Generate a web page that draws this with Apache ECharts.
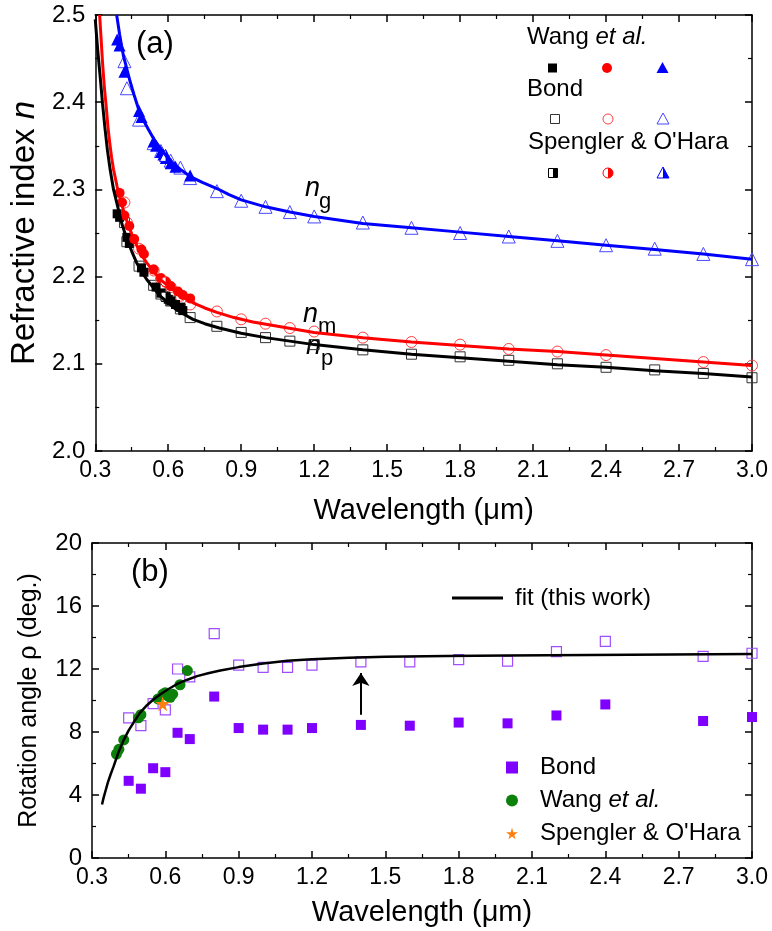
<!DOCTYPE html>
<html>
<head>
<meta charset="utf-8">
<script src="https://cdn.jsdelivr.net/npm/echarts@6/dist/echarts.min.js"></script>
<style>
html,body{margin:0;padding:0;background:#fff;}
#chart{width:772px;height:931px;}
</style>
</head>
<body>
<div id="chart"></div>
<script>
// ---------- Panel (a): refractive indices ----------
const wangNp = [[0.39,2.272],[0.40,2.268],[0.43,2.245],[0.44,2.238],[0.49,2.210],[0.50,2.205],[0.55,2.188],[0.57,2.181],[0.59,2.176],[0.60,2.174],[0.61,2.172],[0.63,2.168],[0.65,2.165],[0.66,2.161]];
const wangNm = [[0.40,2.296],[0.41,2.285],[0.42,2.270],[0.44,2.258],[0.46,2.243],[0.49,2.231],[0.50,2.226],[0.54,2.208],[0.57,2.198],[0.59,2.193],[0.61,2.189],[0.64,2.183],[0.66,2.179],[0.69,2.175]];
const wangNg = [[0.39,2.472],[0.40,2.465],[0.42,2.435],[0.48,2.390],[0.49,2.383],[0.54,2.355],[0.55,2.350],[0.57,2.343],[0.58,2.340],[0.59,2.336],[0.61,2.330],[0.63,2.326],[0.69,2.316]];

const bondNp = [[0.42,2.262],[0.43,2.240],[0.48,2.212],[0.54,2.190],[0.57,2.180],[0.61,2.172],[0.65,2.163],[0.69,2.153],[0.8,2.143],[0.9,2.136],[1.0,2.130],[1.1,2.126],[1.2,2.122],[1.4,2.116],[1.6,2.111],[1.8,2.108],[2.0,2.104],[2.2,2.100],[2.4,2.096],[2.6,2.093],[2.8,2.089],[3.0,2.084]];
const bondNm = [[0.42,2.285],[0.43,2.262],[0.48,2.232],[0.54,2.207],[0.57,2.197],[0.61,2.188],[0.65,2.178],[0.69,2.168],[0.8,2.160],[0.9,2.151],[1.0,2.146],[1.1,2.141],[1.2,2.137],[1.4,2.130],[1.6,2.125],[1.8,2.122],[2.0,2.117],[2.2,2.114],[2.4,2.110],[2.8,2.102],[3.0,2.098]];
const bondNg = [[0.42,2.447],[0.43,2.416],[0.48,2.380],[0.54,2.353],[0.57,2.344],[0.61,2.333],[0.65,2.325],[0.69,2.313],[0.8,2.298],[0.9,2.287],[1.0,2.280],[1.1,2.274],[1.2,2.269],[1.4,2.262],[1.6,2.256],[1.8,2.250],[2.0,2.246],[2.2,2.241],[2.4,2.236],[2.6,2.232],[2.8,2.226],[3.0,2.220]];

const spenNp = [[0.589,2.177]];
const spenNm = [[0.589,2.194]];
const spenNg = [[0.589,2.339]];

const fitNp = [[0.30,2.495],[0.31,2.460],[0.32,2.430],[0.33,2.398],[0.34,2.370],[0.35,2.345],[0.361,2.323],[0.375,2.300],[0.395,2.277],[0.41,2.260],[0.43,2.243],[0.45,2.229],[0.47,2.216],[0.49,2.206],[0.511,2.197],[0.54,2.187],[0.566,2.178],[0.60,2.170],[0.634,2.162],[0.67,2.156],[0.702,2.151],[0.75,2.146],[0.81,2.141],[0.9,2.135],[1.0,2.130],[1.1,2.126],[1.2,2.122],[1.4,2.116],[1.6,2.111],[1.8,2.107],[2.0,2.103],[2.2,2.099],[2.4,2.096],[2.6,2.092],[2.8,2.089],[3.0,2.085]];
const fitNm = [[0.318,2.500],[0.325,2.468],[0.33,2.445],[0.337,2.418],[0.345,2.395],[0.352,2.372],[0.36,2.352],[0.367,2.337],[0.375,2.323],[0.39,2.303],[0.402,2.290],[0.42,2.272],[0.437,2.258],[0.45,2.249],[0.47,2.236],[0.49,2.225],[0.511,2.216],[0.54,2.206],[0.566,2.197],[0.60,2.189],[0.634,2.182],[0.67,2.175],[0.702,2.170],[0.75,2.164],[0.8,2.159],[0.87,2.153],[0.948,2.148],[1.05,2.143],[1.2,2.136],[1.4,2.130],[1.6,2.125],[1.8,2.121],[2.0,2.117],[2.2,2.114],[2.4,2.110],[2.6,2.106],[2.8,2.102],[3.0,2.098]];
const fitNg = [[0.388,2.500],[0.394,2.489],[0.40,2.478],[0.408,2.465],[0.416,2.453],[0.43,2.438],[0.443,2.424],[0.46,2.408],[0.477,2.393],[0.497,2.380],[0.518,2.369],[0.54,2.358],[0.566,2.348],[0.59,2.339],[0.62,2.330],[0.65,2.323],[0.689,2.315],[0.74,2.308],[0.8,2.301],[0.85,2.294],[0.9,2.288],[1.0,2.280],[1.1,2.274],[1.2,2.269],[1.4,2.261],[1.6,2.256],[1.8,2.251],[2.0,2.246],[2.2,2.241],[2.4,2.236],[2.6,2.231],[2.8,2.226],[3.0,2.220]];

// ---------- Panel (b): rotation angle ----------
const bondRhoA = [[0.45,8.9],[0.5,8.4],[0.55,9.8],[0.6,9.4],[0.65,12.0],[0.7,11.5],[0.8,14.25],[0.9,12.25],[1.0,12.1],[1.1,12.1],[1.2,12.25],[1.4,12.45],[1.6,12.45],[1.8,12.6],[2.0,12.5],[2.2,13.1],[2.4,13.75],[2.8,12.8],[3.0,13.0]];
const bondRhoB = [[0.45,4.9],[0.5,4.4],[0.55,5.7],[0.6,5.45],[0.65,7.95],[0.7,7.55],[0.8,10.25],[0.9,8.25],[1.0,8.15],[1.1,8.15],[1.2,8.25],[1.4,8.45],[1.6,8.4],[1.8,8.6],[2.0,8.55],[2.2,9.05],[2.4,9.75],[2.8,8.7],[3.0,8.95]];
const wangRho = [[0.40,6.6],[0.41,6.9],[0.43,7.5],[0.49,8.9],[0.50,9.1],[0.57,10.1],[0.59,10.4],[0.60,10.5],[0.61,10.3],[0.62,10.2],[0.63,10.4],[0.66,11.0],[0.69,11.9]];
const spenRho = [[0.589,9.8]];
const fitRho = [[0.341,3.4],[0.347,3.8],[0.356,4.3],[0.365,4.8],[0.376,5.3],[0.388,5.8],[0.408,6.7],[0.43,7.5],[0.45,8.1],[0.47,8.6],[0.495,9.2],[0.525,9.7],[0.55,10.05],[0.58,10.4],[0.61,10.7],[0.648,11.05],[0.69,11.32],[0.73,11.55],[0.775,11.73],[0.825,11.9],[0.9,12.12],[1.0,12.35],[1.1,12.52],[1.2,12.62],[1.35,12.72],[1.5,12.78],[1.75,12.82],[2.0,12.85],[2.5,12.9],[3.0,12.95]];
const arrowFrom = [1.4, 9.1];
const arrowTo = [1.4, 11.75];

// ---------- Ticks ----------
const xTicks = {min:0.3, max:3.0, step:0.3};
const yTicksA = {min:2.0, max:2.5, step:0.1};
const yTicksB = {min:0, max:20, step:4};

const FONT = 'Liberation Sans, Arial, sans-serif';
const BLUE = '#0000ff', RED = '#ff0000', BLACK = '#000000';
const PURPLE = '#7f00ff', PURPLE_L = '#a04dff', GREEN = '#0b800b', ORANGE = '#ff7f0e';
const STAR = 'path://M50,0L61,35L98,35L68,57L79,91L50,70L21,91L32,57L2,35L39,35Z';
const HALF_RECT = 'path://M0,0H1V2H0Z';
const HALF_CIRC = 'path://M0,0A1,1 0 0 1 0,2Z';
const HALF_TRI = 'path://M0,0L1,2L0,2Z';
const LINE_ICON = 'path://M0,0H50V2H0Z';

function xAxisDef(grid, pos, labels, nameShow, gap) {
  return {
    type:'value', gridIndex:grid, position:pos, min:xTicks.min, max:xTicks.max, interval:xTicks.step,
    axisLine:{show:true, onZero:false, lineStyle:{color:BLACK, width:1.5}},
    axisTick:{show:true, inside:true, length:7, lineStyle:{color:BLACK, width:1.5}},
    minorTick:{show:true, splitNumber:2, length:4, lineStyle:{color:BLACK, width:1.2}},
    splitLine:{show:false},
    axisLabel:{show:labels, color:BLACK, fontSize:23, fontFamily:FONT, margin:8, formatter:v=>v.toFixed(1)},
    name: nameShow ? 'Wavelength (\u03bcm)' : '',
    nameLocation:'middle', nameGap:gap||45,
    nameTextStyle:{color:BLACK, fontSize:29, fontFamily:FONT}
  };
}
function yAxisDef(grid, pos, t, labels, name, fmt, nameSize, gap) {
  return {
    type:'value', gridIndex:grid, position:pos, min:t.min, max:t.max, interval:t.step,
    axisLine:{show:true, onZero:false, lineStyle:{color:BLACK, width:1.5}},
    axisTick:{show:true, inside:true, length:7, lineStyle:{color:BLACK, width:1.5}},
    minorTick:{show:true, splitNumber:2, length:4, lineStyle:{color:BLACK, width:1.2}},
    splitLine:{show:false},
    axisLabel:{show:labels, color:BLACK, fontSize:24, fontFamily:FONT, margin:10, formatter:fmt},
    name: name, nameLocation:'middle', nameGap:gap||50,
    nameTextStyle:{color:BLACK, fontSize:nameSize||25, fontFamily:FONT, rich:{i:{fontStyle:'italic', fontSize:nameSize||25, fontFamily:FONT, color:BLACK}}}
  };
}

function scat(name, data, xi, yi, symbol, size, fill, stroke, bw, extra) {
  return Object.assign({
    name:name, type:'scatter', xAxisIndex:xi, yAxisIndex:yi, data:data,
    symbol:symbol, symbolSize:size,
    itemStyle:{color:fill, borderColor:stroke, borderWidth:bw, opacity:1},
    emphasis:{disabled:true}, z:3
  }, extra||{});
}
function fitLine(name, data, xi, yi, color, extra) {
  return Object.assign({
    name:name, type:'line', xAxisIndex:xi, yAxisIndex:yi, data:data,
    symbol:'none', showSymbol:false, smooth:false, clip:true,
    lineStyle:{color:color, width:3}, itemStyle:{color:color},
    emphasis:{disabled:true}, z:4
  }, extra||{});
}
const HOLLOW = 'rgba(0,0,0,0)';

const series = [
  // panel a: Bond (open)
  scat('Bond np', bondNp, 0, 0, 'rect', 10, HOLLOW, '#333', 1),
  scat('Bond nm', bondNm, 0, 0, 'circle', 11, HOLLOW, '#ff4040', 1),
  scat('Bond ng', bondNg, 0, 0, 'triangle', 13, HOLLOW, '#4848ff', 1),
  // panel a: Wang (filled)
  scat('Wang np', wangNp, 0, 0, 'rect', 9, BLACK, BLACK, 0),
  scat('Wang nm', wangNm, 0, 0, 'circle', 10, RED, RED, 0),
  scat('Wang ng', wangNg, 0, 0, 'triangle', 12, BLUE, BLUE, 0),
  // panel a: Spengler & O'Hara (half filled)
  scat('Spen np o', spenNp, 0, 0, 'rect', 9, '#fff', BLACK, 1),
  scat('Spen np h', spenNp, 0, 0, HALF_RECT, [4.5,9], BLACK, BLACK, 0, {symbolOffset:[2.25,0]}),
  scat('Spen nm o', spenNm, 0, 0, 'circle', 10, '#fff', RED, 1),
  scat('Spen nm h', spenNm, 0, 0, HALF_CIRC, [5,10], RED, RED, 0, {symbolOffset:[2.5,0]}),
  scat('Spen ng o', spenNg, 0, 0, 'triangle', 12, '#fff', BLUE, 1),
  scat('Spen ng h', spenNg, 0, 0, HALF_TRI, [6,12], BLUE, BLUE, 0, {symbolOffset:[3,0]}),
  // panel a fits
  fitLine('fit np', fitNp, 0, 0, BLACK),
  fitLine('fit nm', fitNm, 0, 0, RED),
  fitLine('fit ng', fitNg, 0, 0, BLUE),
  // panel b
  scat('Bond open', bondRhoA, 2, 2, 'rect', 10, HOLLOW, PURPLE_L, 1.2),
  scat('Bond', bondRhoB, 2, 2, 'rect', 10, PURPLE, PURPLE, 0),
  scat('Wang', wangRho, 2, 2, 'circle', 11, GREEN, GREEN, 0),
  scat('Spengler', spenRho, 2, 2, STAR, 15, ORANGE, ORANGE, 0),
  fitLine('fit (this work)', fitRho, 2, 2, BLACK, {
    lineStyle:{color:BLACK, width:2.5},
    markLine:{
      silent:true, symbol:['none','arrow'], symbolSize:13, precision:3,
      label:{show:false}, lineStyle:{color:BLACK, width:2, type:'solid'},
      emphasis:{disabled:true},
      data:[[{coord:arrowFrom},{coord:arrowTo}]]
    }
  })
];

const legendTextRich = {i:{fontStyle:'italic', fontSize:24, fontFamily:FONT, color:BLACK}};

const option = {
  animation:false,
  backgroundColor:'#ffffff',
  textStyle:{fontFamily:FONT},
  grid:[
    {left:92, right:20, top:15, height:436},
    {left:92, right:20, top:543, height:315}
  ],
  xAxis:[
    xAxisDef(0,'bottom',true,true,45),
    xAxisDef(0,'top',false,false),
    xAxisDef(1,'bottom',true,true,40),
    xAxisDef(1,'top',false,false)
  ],
  yAxis:[
    yAxisDef(0,'left',yTicksA,true,'Refractive index {i|n}', v=>v.toFixed(1), 33, 46),
    yAxisDef(0,'right',yTicksA,false,'', null),
    yAxisDef(1,'left',yTicksB,true,'Rotation angle \u03c1 (deg.)', v=>String(v), 25, 50),
    yAxisDef(1,'right',yTicksB,false,'', null)
  ],
  legend:[
    {
      data:[{name:'fit (this work)', icon:LINE_ICON}], left:452, top:586, padding:0, itemWidth:51, itemHeight:3,
      symbolKeepAspect:false,
      textStyle:{fontSize:24, fontFamily:FONT, color:BLACK, padding:[0,0,0,7]},
      selectedMode:false
    },
    {
      data:[{name:'Bond', icon:'rect'},{name:'Wang', icon:'circle'},{name:'Spengler', icon:STAR}],
      orient:'vertical', left:506, top:754, padding:0, itemWidth:12, itemHeight:12, itemGap:6,
      symbolKeepAspect:true,
      formatter:function(n){ if(n==='Wang') return 'Wang {i|et al.}'; if(n==='Spengler') return "Spengler & O'Hara"; return n; },
      textStyle:{fontSize:24, lineHeight:27, fontFamily:FONT, color:BLACK, padding:[0,0,0,17], rich:legendTextRich},
      selectedMode:false
    }
  ],
  graphic:[
    // panel labels
    {type:'text', left:136, top:29, style:{text:'(a)', fontSize:31, fontFamily:FONT, fill:BLACK}},
    {type:'text', left:131, top:557, style:{text:'(b)', fontSize:31, fontFamily:FONT, fill:BLACK}},
    // curve labels
    {type:'text', left:305, top:175, style:{text:'n', fontSize:27, fontStyle:'italic', fontFamily:FONT, fill:BLACK}},
    {type:'text', left:319, top:191, style:{text:'g', fontSize:22, fontFamily:FONT, fill:BLACK}},
    {type:'text', left:303, top:301, style:{text:'n', fontSize:27, fontStyle:'italic', fontFamily:FONT, fill:BLACK}},
    {type:'text', left:318, top:316, style:{text:'m', fontSize:22, fontFamily:FONT, fill:BLACK}},
    {type:'text', left:306, top:333, style:{text:'n', fontSize:27, fontStyle:'italic', fontFamily:FONT, fill:BLACK}},
    {type:'text', left:321, top:348, style:{text:'p', fontSize:22, fontFamily:FONT, fill:BLACK}},
    // panel (a) legend
    {type:'text', left:527, top:25, style:{text:'Wang {i|et al.}', fontSize:24, fontFamily:FONT, fill:BLACK, rich:{i:{fontStyle:'italic', fontSize:24, fontFamily:FONT, fill:BLACK}}}},
    {type:'rect', shape:{x:548, y:63.5, width:9, height:9}, style:{fill:BLACK}},
    {type:'circle', shape:{cx:607, cy:68, r:5}, style:{fill:RED}},
    {type:'polygon', shape:{points:[[662.5,62],[656.5,73],[668.5,73]]}, style:{fill:BLUE}},
    {type:'text', left:527, top:77, style:{text:'Bond', fontSize:24, fontFamily:FONT, fill:BLACK}},
    {type:'rect', shape:{x:550.5, y:114.5, width:9, height:9}, style:{fill:'none', stroke:'#333', lineWidth:1}},
    {type:'circle', shape:{cx:608, cy:119, r:5}, style:{fill:'none', stroke:'#ff4040', lineWidth:1}},
    {type:'polygon', shape:{points:[[663,113],[657,124],[669,124]]}, style:{fill:'none', stroke:'#4848ff', lineWidth:1}},
    {type:'text', left:528, top:130, style:{text:"Spengler & O'Hara", fontSize:24, fontFamily:FONT, fill:BLACK}},
    {type:'rect', shape:{x:548.5, y:168.5, width:9, height:9}, style:{fill:'none', stroke:BLACK, lineWidth:1}},
    {type:'rect', shape:{x:553, y:168.5, width:4.5, height:9}, style:{fill:BLACK}},
    {type:'circle', shape:{cx:608, cy:173, r:5}, style:{fill:'none', stroke:RED, lineWidth:1}},
    {type:'sector', shape:{cx:608, cy:173, r:5, r0:0, startAngle:-Math.PI/2, endAngle:Math.PI/2}, style:{fill:RED}},
    {type:'polygon', shape:{points:[[663,167],[657,178],[669,178]]}, style:{fill:'none', stroke:BLUE, lineWidth:1}},
    {type:'polygon', shape:{points:[[663,167],[669,178],[663,178]]}, style:{fill:BLUE}}
  ],
  series:series
};

const chart = echarts.init(document.getElementById('chart'), null, {renderer:'canvas'});
chart.setOption(option);
</script>
</body>
</html>
